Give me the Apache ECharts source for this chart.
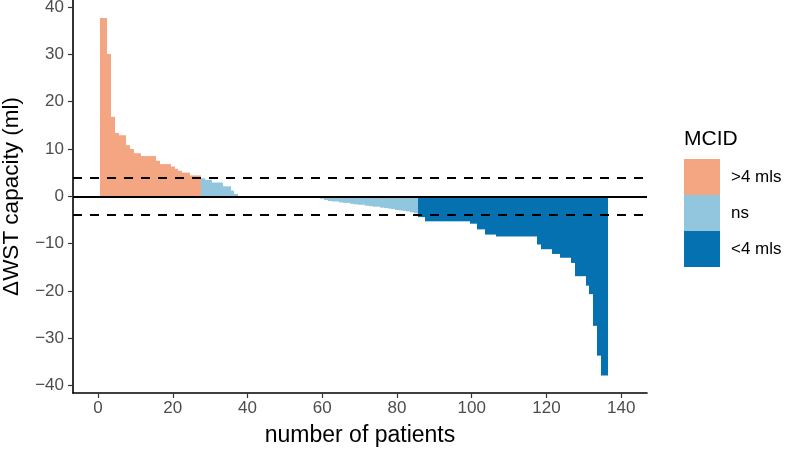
<!DOCTYPE html>
<html><head><meta charset="utf-8">
<script src="https://cdn.jsdelivr.net/npm/echarts@6/dist/echarts.min.js"></script>
<style>html,body{margin:0;padding:0;background:#fff}#c{width:787px;height:449px}</style>
</head><body><div id="c"></div>
<script>
// ΔWST capacity (ml) per patient, sorted descending, grouped by MCID class
const over4 = [37.7,37.7,30.1,16.8,13.4,12.9,12.9,10.8,10.0,9.1,9.1,8.5,8.5,8.5,8.5,7.5,6.8,6.8,6.8,6.3,5.8,5.4,5.0,5.0,4.4,4.4,4.4];
const nsVals = [3.8,3.5,3.5,2.9,2.9,2.9,2.1,2.1,1.2,0.5,
  0,0,0,0,0,0,0,0,0,0,0,0,0,0,0,0,0,0,0,0,0,0,
  -0.5,-0.8,-1.0,-1.1,-1.1,-1.3,-1.4,-1.4,-1.6,-1.7,-1.8,-1.8,-2.0,-2.1,-2.2,-2.2,-2.4,-2.5,-2.6,-2.7,-2.9,-3.0,-3.1,-3.2,-3.4,-3.6];
const under4 = [-4.4,-4.4,
  -5.3,-5.3,-5.3,-5.3,-5.3,-5.3,-5.3,-5.3,-5.3,-5.3,-5.3,-5.3,
  -5.8,-5.8,-7.0,-7.0,-8.1,-8.1,-8.1,
  -8.5,-8.5,-8.5,-8.5,-8.5,-8.5,-8.5,-8.5,-8.5,-8.5,-8.5,
  -10.2,-11.2,-11.2,-11.2,-12.2,-12.2,-13.0,-13.0,-13.0,-14.1,
  -16.9,-16.9,-16.9,-18.9,-20.7,-27.4,-33.7,-37.9,-37.9];
const groupNames = ['>4 mls','ns','<4 mls'];
const groupColors = ['#F4A582','#92C5DE','#0571B0'];
const xTicks = [0,20,40,60,80,100,120,140];
const yTicks = [-40,-30,-20,-10,0,10,20,30,40];
const mcidLines = [4,-4];

const groups = [over4, nsVals, under4];
let idx = 0;
const groupData = groups.map(g => g.map(v => { idx += 1; return [idx, v]; }));

function renderBar(params, api){
  const x = api.value(0), y = api.value(1);
  if (y === 0) return null;
  const p0 = api.coord([x - 0.5, y]);
  const p1 = api.coord([x + 0.5, 0]);
  const x0 = Math.round(p0[0]), x1 = Math.round(p1[0]);
  return {type:'rect',
    shape:{x:x0, y:Math.min(p0[1],p1[1]), width:x1-x0, height:Math.abs(p1[1]-p0[1])},
    style:{fill: api.visual('color')}};
}
const minusFmt = v => String(v).replace('-', '\u2212');
const FONT = 'Liberation Sans, Arial, Helvetica, sans-serif';

const series = groupData.map((d,i) => ({
  name: groupNames[i], type:'custom', renderItem: renderBar, data: d,
  itemStyle:{color: groupColors[i]}, encode:{x:0, y:1}, clip:true, z:2
}));
series.push({
  type:'custom', name:'lines', renderItem: () => null, data: [], z:5,
  markLine:{silent:true, symbol:'none', animation:false, label:{show:false},
    data: mcidLines.map(v => ({yAxis:v, lineStyle:{color:'#000', width:1.9, type:[9,8]}}))
      .concat([{yAxis:0, lineStyle:{color:'#000', width:1.9, type:'solid'}}])}
});

const chart = echarts.init(document.getElementById('c'), null, {renderer:'canvas'});
chart.setOption({
  animation:false,
  backgroundColor:'#fff',
  textStyle:{fontFamily: FONT},
  grid:{left:73, top:0, width:574, height:393, containLabel:false, outerBoundsMode:'none'},
  xAxis:{type:'value', min:-6.7, max:146.9,
    axisLine:{show:true, onZero:false, lineStyle:{color:'#000', width:1.6}},
    axisTick:{show:true, customValues:xTicks, length:5, lineStyle:{color:'#333', width:1.2}},
    axisLabel:{customValues:xTicks, color:'#4D4D4D', fontSize:17, margin:7, fontFamily:FONT},
    splitLine:{show:false},
    name:'number of patients', nameLocation:'middle', nameGap:31,
    nameTextStyle:{color:'#000', fontSize:23, fontFamily:FONT}},
  yAxis:{type:'value', min:-41.6, max:41.5,
    axisLine:{show:true, onZero:false, lineStyle:{color:'#000', width:1.6}},
    axisTick:{show:true, customValues:yTicks, length:5, lineStyle:{color:'#333', width:1.2}},
    axisLabel:{customValues:yTicks, color:'#4D4D4D', fontSize:17, margin:9, fontFamily:FONT, formatter:minusFmt},
    splitLine:{show:false},
    name:'\u0394WST capacity (ml)', nameLocation:'middle', nameGap:50, nameRotate:90,
    nameTextStyle:{color:'#000', fontSize:22.5, fontFamily:FONT}},
  legend:{data:groupNames, orient:'vertical', left:684, top:159, itemWidth:36, itemHeight:36, itemGap:0,
    padding:0, icon:'rect', selectedMode:false,
    textStyle:{color:'#000', fontSize:17, fontFamily:FONT, padding:[0,0,0,6]}},
  graphic:[{type:'text', left:684, top:129, style:{text:'MCID', fontSize:21, fontFamily:FONT, fill:'#000'}}],
  series: series
});
</script></body></html>
